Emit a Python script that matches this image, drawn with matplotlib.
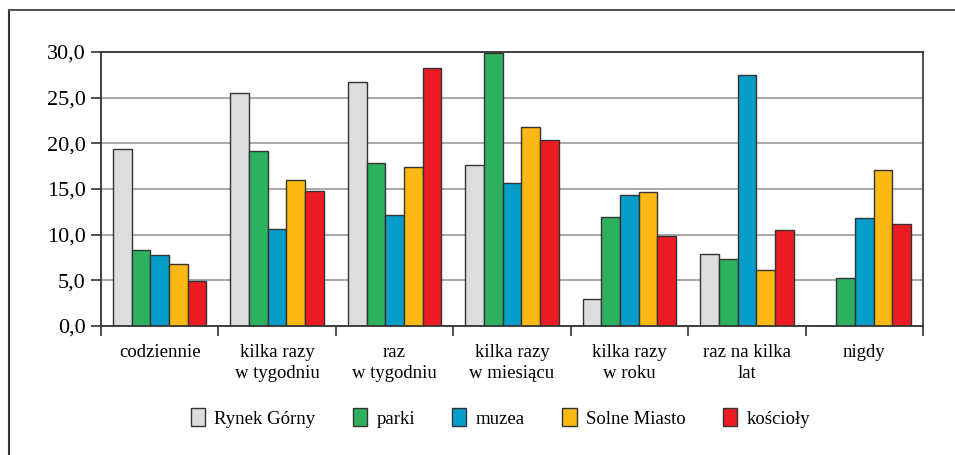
import matplotlib
matplotlib.use("Agg")
import matplotlib.pyplot as plt
import numpy as np
from matplotlib.lines import Line2D

plt.rcParams['font.family'] = ['Liberation Serif', 'DejaVu Serif']

categories = ["codziennie", "kilka razy\nw tygodniu", "raz\nw tygodniu",
              "kilka razy\nw miesiącu", "kilka razy\nw roku", "raz na kilka\nlat", "nigdy"]
series_names = ["Rynek Górny", "parki", "muzea", "Solne Miasto", "kościoły"]
rynek = [19.4, 25.5, 26.7, 17.6, 3.0, 7.9, 0.0]
parki = [8.3, 19.2, 17.9, 29.9, 11.9, 7.3, 5.3]
muzea = [7.8, 10.6, 12.2, 15.7, 14.3, 27.5, 11.8]
solne = [6.8, 16.0, 17.4, 21.8, 14.7, 6.1, 17.1]
koscioly = [4.9, 14.8, 28.2, 20.4, 9.8, 10.5, 11.2]
colors = ['#dcdddf', '#2db15e', '#069dcb', '#fdb913', '#ed1c24']

fig = plt.figure(figsize=(9.55, 4.55), dpi=100)
ax = fig.add_axes([101/955, 1-326/455, 822/955, 274/455])

# outer frame (cropped on right/bottom)
fig.add_artist(Line2D([9/955, 9/955], [0, 1-10/455], color='#333333', lw=1.5, transform=fig.transFigure))
fig.add_artist(Line2D([9/955, 1], [1-10/455, 1-10/455], color='#555555', lw=1.5, transform=fig.transFigure))

data = [rynek, parki, muzea, solne, koscioly]
w = 0.159
x = np.arange(len(categories)) + 0.5
for i, (vals, c, name) in enumerate(zip(data, colors, series_names)):
    ax.bar(x + (i - 2) * w, vals, w, color=c, edgecolor='#333333', linewidth=1.0,
           label=name, zorder=3)

ax.set_xlim(0, 7)
ax.set_ylim(0, 30)
ax.set_yticks(np.arange(0, 31, 5))
ax.set_yticklabels([f"{v:.1f}".replace('.', ',') for v in np.arange(0, 31, 5)], fontsize=16)
ax.yaxis.grid(True, color='#a0a0a0', lw=1.3, zorder=0)
ax.set_xticks(np.arange(0, 8))
ax.set_xticklabels([])
ax.set_xticks(x, minor=True)
ax.set_xticklabels(categories, minor=True, fontsize=13.5, linespacing=1.3)
ax.tick_params(axis='x', which='minor', length=0, pad=13)
ax.tick_params(axis='x', which='major', length=7, width=1.2, color='#333333')
ax.tick_params(axis='y', length=7, width=1.2, color='#333333', pad=4)
for s in ['left', 'bottom', 'top']:
    ax.spines[s].set_color('#333333')
    ax.spines[s].set_linewidth(1.3)
    ax.spines[s].set_zorder(4)
ax.spines['right'].set_color('#555555')
ax.spines['right'].set_linewidth(1.5)

fig.legend(loc='center', bbox_to_anchor=(0.524, 1-418/455), ncol=5, frameon=False,
           fontsize=13.5, handlelength=0.75, handleheight=1.1, handletextpad=0.5,
           columnspacing=2.0)

fig.savefig("out.png", dpi=100)
